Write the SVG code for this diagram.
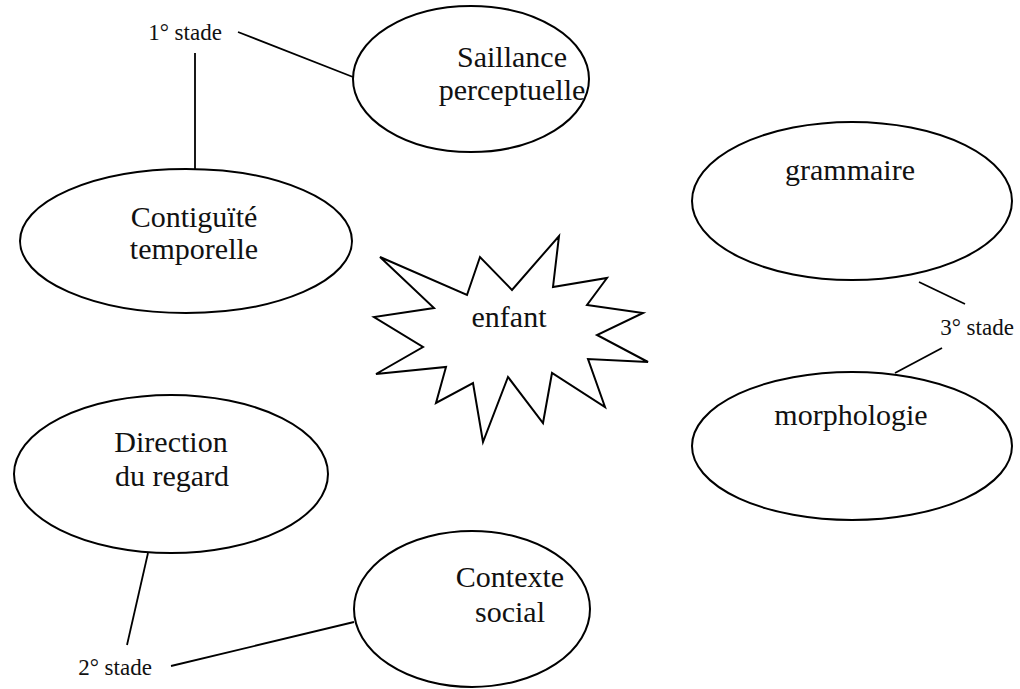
<svg xmlns="http://www.w3.org/2000/svg" width="1020" height="689" viewBox="0 0 1020 689">
<style>
.n{fill:#fff;stroke:#000;stroke-width:2}
.t{font-family:'Liberation Serif','Times New Roman',Times,serif;font-size:30px;fill:#111;text-anchor:middle}
.s{font-family:'Liberation Serif','Times New Roman',Times,serif;font-size:23px;fill:#111;text-anchor:middle}
.c line{stroke:#000;stroke-width:1.8}
</style>
<rect width="1020" height="689" fill="#fff"/>
<g class="c" id="connectors">
<line x1="238" y1="32" x2="353" y2="77"/>
<line x1="195" y1="53" x2="195" y2="169"/>
<line x1="919" y1="282" x2="965" y2="304"/>
<line x1="942" y1="348" x2="895" y2="373"/>
<line x1="148" y1="553" x2="127" y2="645"/>
<line x1="171" y1="666" x2="354" y2="622"/>
</g>
<g id="saillance"><ellipse class="n" cx="471" cy="79" rx="118" ry="73"/><text class="t" x="512" y="67">Saillance</text><text class="t" x="512" y="100">perceptuelle</text></g>
<g id="contiguite"><ellipse class="n" cx="186" cy="241" rx="166" ry="72"/><text class="t" x="194" y="227">Contiguïté</text><text class="t" x="194" y="259">temporelle</text></g>
<g id="grammaire"><ellipse class="n" cx="852" cy="201" rx="160" ry="79"/><text class="t" x="850" y="180">grammaire</text></g>
<g id="morphologie"><ellipse class="n" cx="852" cy="446" rx="160" ry="74"/><text class="t" x="851" y="425">morphologie</text></g>
<g id="direction"><ellipse class="n" cx="171" cy="474" rx="157" ry="79"/><text class="t" x="171" y="452">Direction</text><text class="t" x="172" y="486">du regard</text></g>
<g id="contexte"><ellipse class="n" cx="472" cy="609" rx="118" ry="78"/><text class="t" x="510" y="587">Contexte</text><text class="t" x="510" y="622">social</text></g>
<g id="enfant"><polygon class="n" points="380,257 467,295 480,257 512,290 559,236 553,287 607,278 587,305 643,313 597,335 648,362 588,359 605,407 552,373 543,423 508,377 483,442 473,383 436,403 446,367 376,374 423,347 374,317 434,308"/><text class="t" x="509" y="327">enfant</text></g>
<g id="stage1"><text class="s" x="185" y="40">1° stade</text></g>
<g id="stage3"><text class="s" x="977" y="335">3° stade</text></g>
<g id="stage2"><text class="s" x="115" y="675">2° stade</text></g>
</svg>
